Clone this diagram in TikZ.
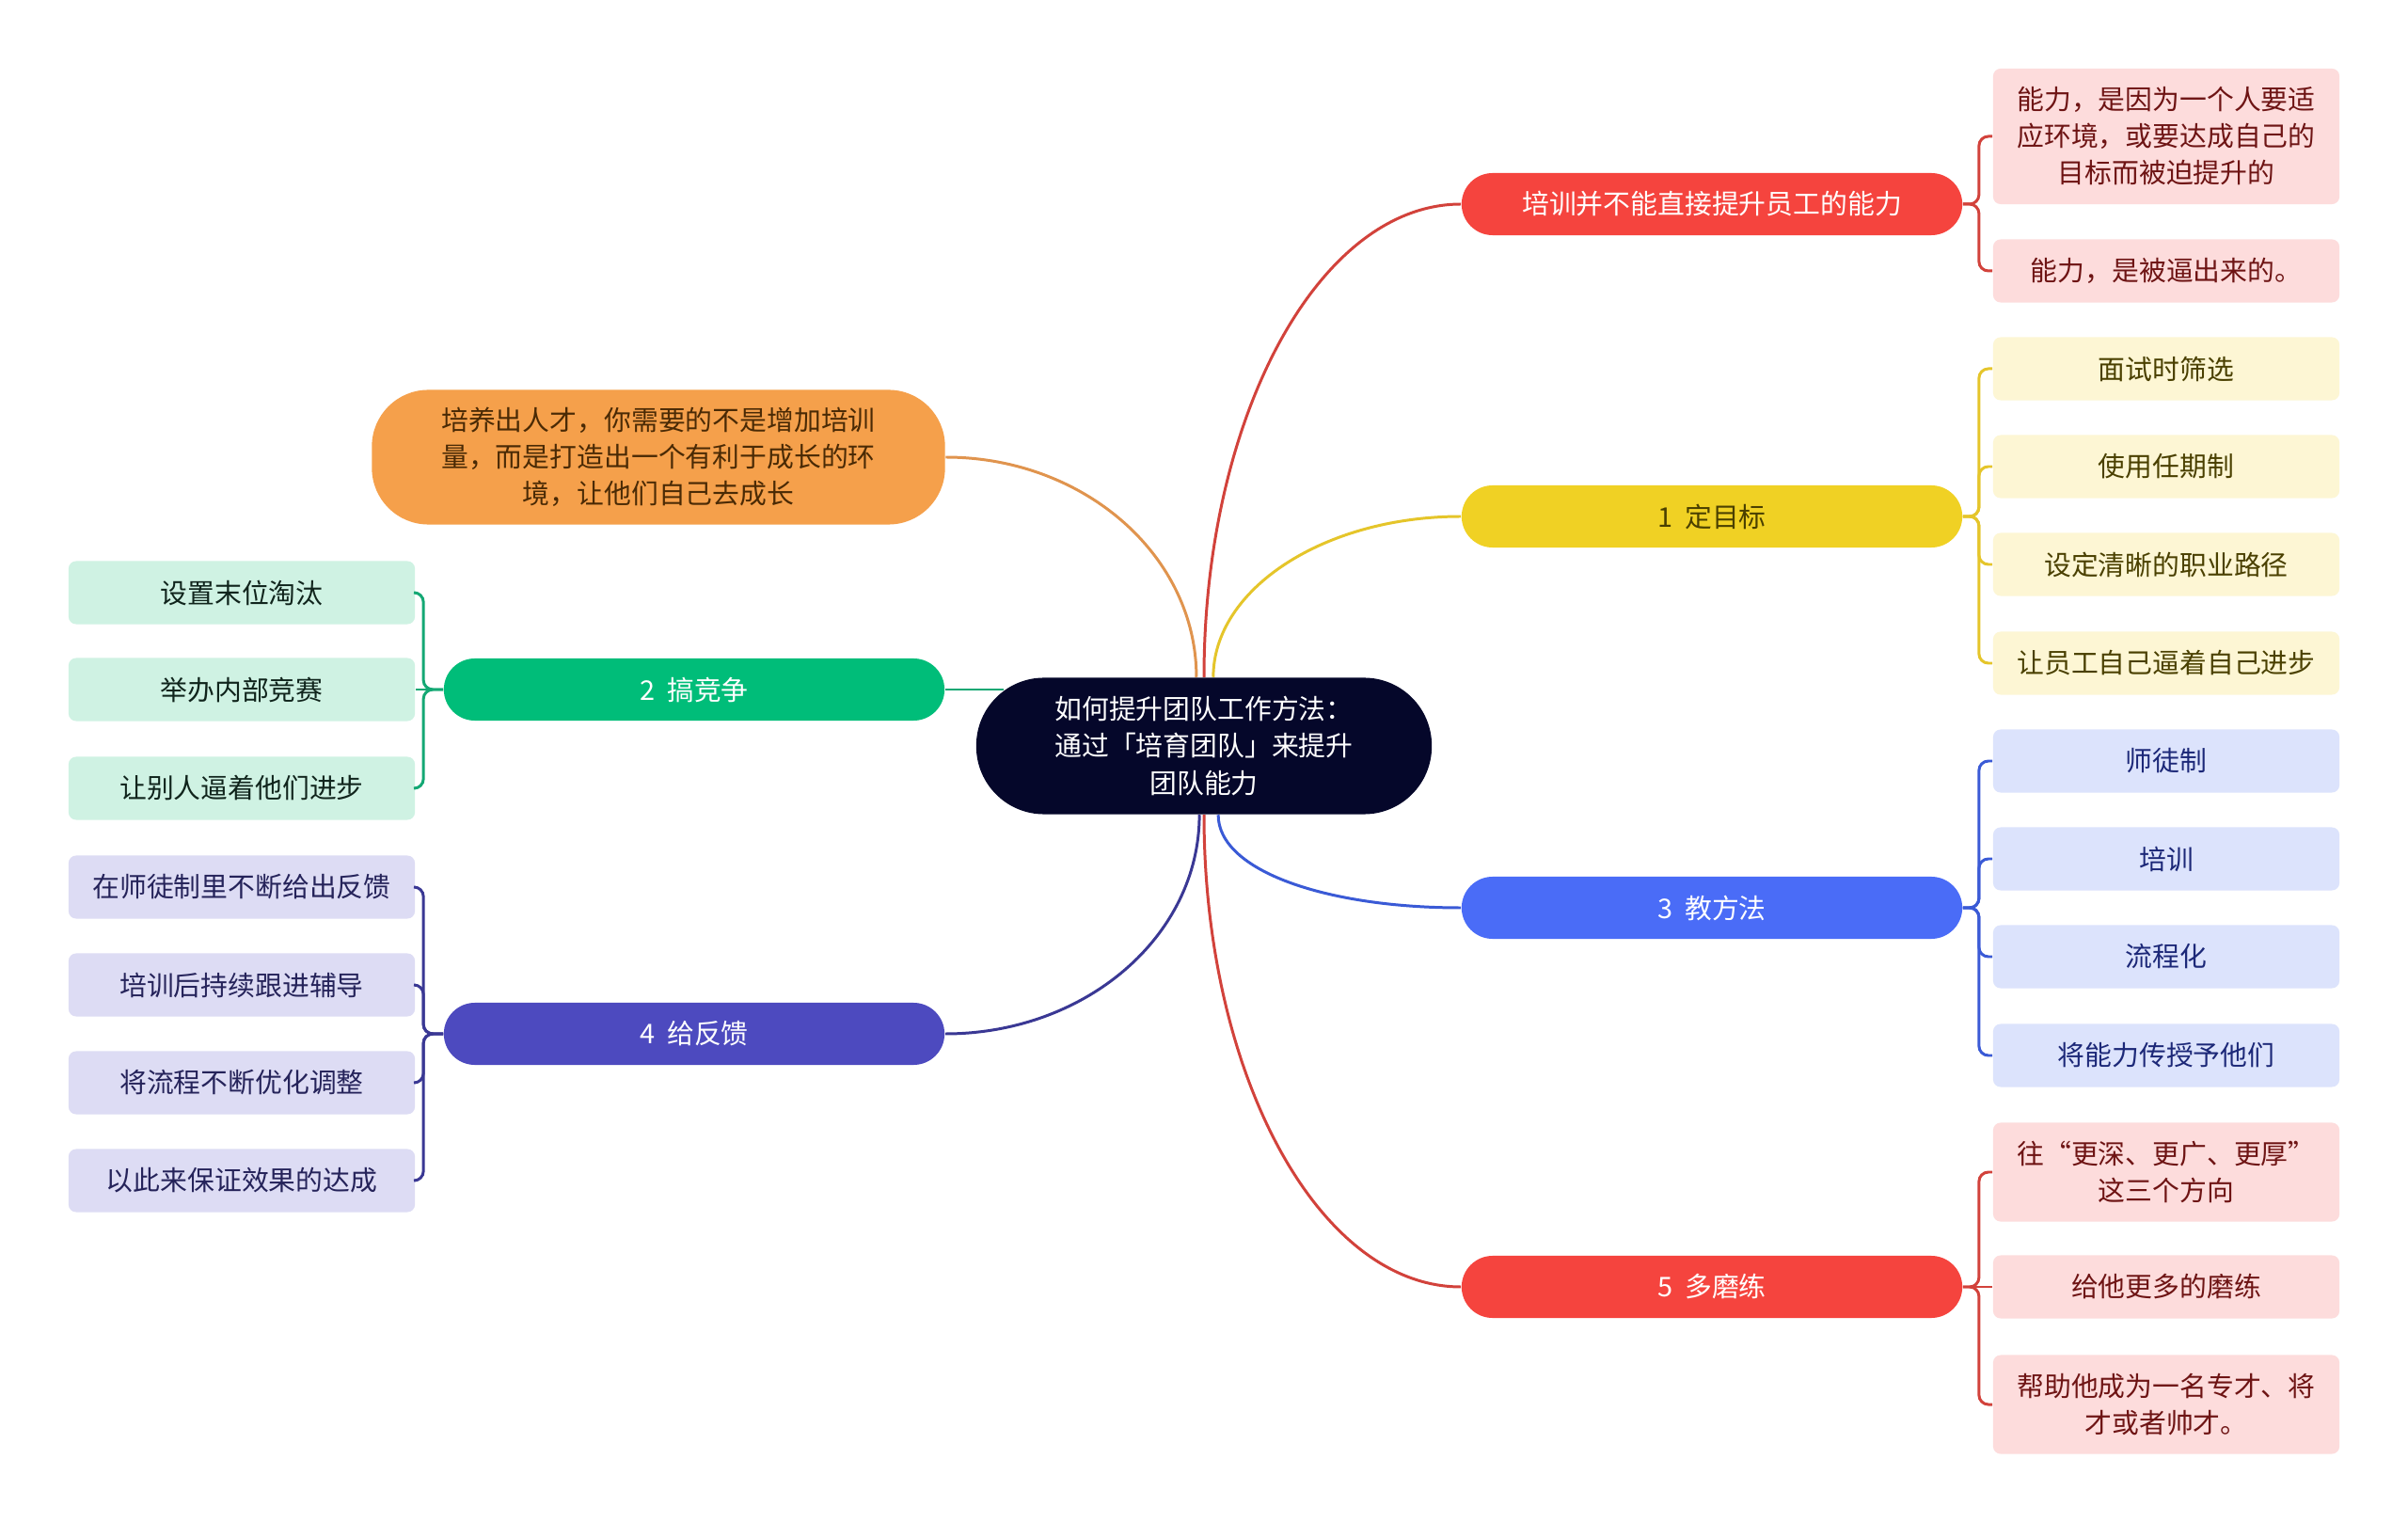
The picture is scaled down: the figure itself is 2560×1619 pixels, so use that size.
\documentclass[tikz,border=0pt]{standalone}
\usepackage{fontspec}
\setmainfont{Noto Sans CJK SC}
\definecolor{mmnavy}{HTML}{05072A}
\definecolor{mmred}{HTML}{F5443E}
\definecolor{mmredline}{HTML}{D2423B}
\definecolor{mmredleaf}{HTML}{FDDCDC}
\definecolor{mmredtext}{HTML}{6E1414}
\definecolor{mmyellow}{HTML}{F0D124}
\definecolor{mmyellowline}{HTML}{E5C52A}
\definecolor{mmyellowleaf}{HTML}{FDF6D4}
\definecolor{mmyellowtext}{HTML}{4A4000}
\definecolor{mmblue}{HTML}{4A6CF7}
\definecolor{mmblueline}{HTML}{3A5AD6}
\definecolor{mmblueleaf}{HTML}{DCE3FC}
\definecolor{mmbluetext}{HTML}{1C2878}
\definecolor{mmgreen}{HTML}{00BD79}
\definecolor{mmgreenline}{HTML}{14A874}
\definecolor{mmgreenleaf}{HTML}{CFF2E3}
\definecolor{mmgreentext}{HTML}{10241C}
\definecolor{mmpurple}{HTML}{4D4ABF}
\definecolor{mmpurpleline}{HTML}{3A3894}
\definecolor{mmpurpleleaf}{HTML}{DDDCF4}
\definecolor{mmpurpletext}{HTML}{25235A}
\definecolor{mmorange}{HTML}{F5A04B}
\definecolor{mmorangeline}{HTML}{E0944E}
\definecolor{mmorangetext}{HTML}{4A2A05}
\tikzstyle{root}=[rounded corners=0.72cm, minimum width=4.84cm, minimum height=1.45cm, inner sep=0, fill=mmnavy, text=white, align=center]
\tikzstyle{topic}=[rounded corners=0.33cm, minimum width=5.32cm, minimum height=0.66cm, inner sep=0, text=white, align=center]
\tikzstyle{leaf}=[rounded corners=0.08cm, minimum width=3.68cm, minimum height=0.67cm, inner sep=0, align=center]
\tikzstyle{curve}=[line width=0.85pt]
\tikzstyle{bracket}=[line width=0.85pt, rounded corners=0.1cm]

\begin{document}
\begin{tikzpicture}[x=0.01cm, y=-0.01cm, every node/.style={font=\fontsize{8.2pt}{11.1pt}\selectfont}]

\fill [white] (0, 0) rectangle (2560, 1619);
\useasboundingbox (0, 0) rectangle (2560, 1619);

\node [root] (ctr) at (1280, 793) {如何提升团队工作方法：\\通过「培育团队」来提升\\团队能力};

\node [topic, fill=mmred] (t0) at (1820, 217) {培训并不能直接提升员工的能力};
\node [topic, fill=mmyellow, text=mmyellowtext] (t1) at (1820, 549) {1~~定目标};
\node [topic, fill=mmblue] (t3) at (1820, 965) {3~~教方法};
\node [topic, fill=mmred] (t5) at (1820, 1368) {5~~多磨练};
\node [topic, fill=mmorange, text=mmorangetext, rounded corners=0.6cm, minimum width=6.09cm, minimum height=1.43cm] (t6) at (700, 486) {培养出人才，你需要的不是增加培训\\量，而是打造出一个有利于成长的环\\境，让他们自己去成长};
\node [topic, fill=mmgreen] (t2) at (738, 733) {2~~搞竞争};
\node [topic, fill=mmpurple] (t4) at (738, 1099) {4~~给反馈};

\node [leaf, fill=mmredleaf, text=mmredtext, minimum height=1.44cm] (t0a) at (2303, 145) {能力，是因为一个人要适\\应环境，或要达成自己的\\目标而被迫提升的};
\node [leaf, fill=mmredleaf, text=mmredtext] (t0b) at (2303, 288) {能力，是被逼出来的。};

\node [leaf, fill=mmyellowleaf, text=mmyellowtext] (t1a) at (2303, 392) {面试时筛选};
\node [leaf, fill=mmyellowleaf, text=mmyellowtext] (t1b) at (2303, 496) {使用任期制};
\node [leaf, fill=mmyellowleaf, text=mmyellowtext] (t1c) at (2303, 600) {设定清晰的职业路径};
\node [leaf, fill=mmyellowleaf, text=mmyellowtext] (t1d) at (2303, 705) {让员工自己逼着自己进步};

\node [leaf, fill=mmblueleaf, text=mmbluetext] (t3a) at (2303, 809) {师徒制};
\node [leaf, fill=mmblueleaf, text=mmbluetext] (t3b) at (2303, 913) {培训};
\node [leaf, fill=mmblueleaf, text=mmbluetext] (t3c) at (2303, 1017) {流程化};
\node [leaf, fill=mmblueleaf, text=mmbluetext] (t3d) at (2303, 1122) {将能力传授予他们};

\node [leaf, fill=mmredleaf, text=mmredtext, minimum height=1.05cm] (t5a) at (2303, 1246) {往“更深、更广、更厚”\\这三个方向};
\node [leaf, fill=mmredleaf, text=mmredtext] (t5b) at (2303, 1368) {给他更多的磨练};
\node [leaf, fill=mmredleaf, text=mmredtext, minimum height=1.05cm] (t5c) at (2303, 1493) {帮助他成为一名专才、将\\才或者帅才。};

\node [leaf, fill=mmgreenleaf, text=mmgreentext] (t2a) at (257, 630) {设置末位淘汰};
\node [leaf, fill=mmgreenleaf, text=mmgreentext] (t2b) at (257, 733) {举办内部竞赛};
\node [leaf, fill=mmgreenleaf, text=mmgreentext] (t2c) at (257, 838) {让别人逼着他们进步};

\node [leaf, fill=mmpurpleleaf, text=mmpurpletext] (t4a) at (257, 943) {在师徒制里不断给出反馈};
\node [leaf, fill=mmpurpleleaf, text=mmpurpletext] (t4b) at (257, 1047) {培训后持续跟进辅导};
\node [leaf, fill=mmpurpleleaf, text=mmpurpletext] (t4c) at (257, 1151) {将流程不断优化调整};
\node [leaf, fill=mmpurpleleaf, text=mmpurpletext] (t4d) at (257, 1255) {以此来保证效果的达成};

% main branches
\draw [curve, mmredline] (ctr.north) .. controls +(0, -277) and +(-151, 0) .. (t0.west);
\draw [curve, mmorangeline] ([xshift=-2.3pt]ctr.north) .. controls +(0, -129) and +(147, 0) .. (t6.east);
\draw [curve, mmyellowline] ([xshift=2.8pt]ctr.north) .. controls +(0, -94) and +(-145, 0) .. (t1.west);
\coordinate (ctrg) at (1067, 733);
\draw [curve, mmgreenline] (t2.east) -- (ctrg);
\draw [curve, mmblueline] ([xshift=4.3pt]ctr.south) .. controls +(0, 60) and +(-142, 0) .. (t3.west);
\draw [curve, mmpurpleline] ([xshift=-1.4pt]ctr.south) .. controls +(0, 129) and +(149, 0) .. (t4.east);
\draw [curve, mmredline] (ctr.south) .. controls +(0, 277) and +(-151, 0) .. (t5.west);

% leaves
\draw [bracket, mmredline] (t0.east) -- ++(17, 0) |- (t0a.west);
\draw [bracket, mmredline] (t0.east) -- ++(17, 0) |- (t0b.west);

\draw [bracket, mmyellowline] (t1.east) -- ++(17, 0) |- (t1a.west);
\draw [bracket, mmyellowline] (t1.east) -- ++(17, 0) |- (t1b.west);
\draw [bracket, mmyellowline] (t1.east) -- ++(17, 0) |- (t1c.west);
\draw [bracket, mmyellowline] (t1.east) -- ++(17, 0) |- (t1d.west);

\draw [bracket, mmblueline] (t3.east) -- ++(17, 0) |- (t3a.west);
\draw [bracket, mmblueline] (t3.east) -- ++(17, 0) |- (t3b.west);
\draw [bracket, mmblueline] (t3.east) -- ++(17, 0) |- (t3c.west);
\draw [bracket, mmblueline] (t3.east) -- ++(17, 0) |- (t3d.west);

\draw [bracket, mmredline] (t5.east) -- ++(17, 0) |- (t5a.west);
\draw [bracket, mmredline] (t5.east) -- (t5b.west);
\draw [bracket, mmredline] (t5.east) -- ++(17, 0) |- (t5c.west);

\draw [bracket, mmgreenline] (t2.west) -- ++(-21, 0) |- (t2a.east);
\draw [bracket, mmgreenline] (t2.west) -- (t2b.east);
\draw [bracket, mmgreenline] (t2.west) -- ++(-21, 0) |- (t2c.east);

\draw [bracket, mmpurpleline] (t4.west) -- ++(-21, 0) |- (t4a.east);
\draw [bracket, mmpurpleline] (t4.west) -- ++(-21, 0) |- (t4b.east);
\draw [bracket, mmpurpleline] (t4.west) -- ++(-21, 0) |- (t4c.east);
\draw [bracket, mmpurpleline] (t4.west) -- ++(-21, 0) |- (t4d.east);

\end{tikzpicture}
\end{document}
